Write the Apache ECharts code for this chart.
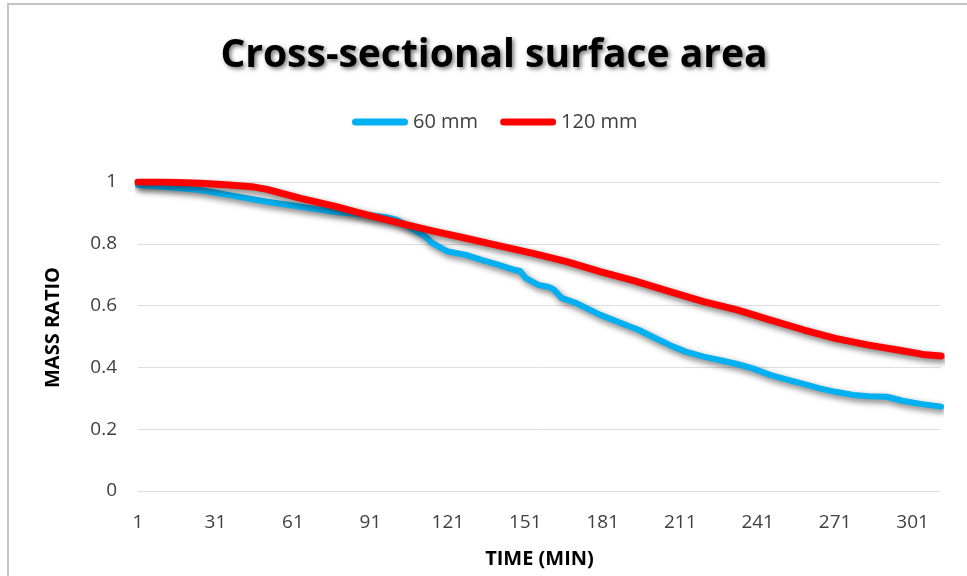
<!DOCTYPE html>
<html>
<head>
<meta charset="utf-8">
<script src="https://cdn.jsdelivr.net/npm/echarts@6/dist/echarts.min.js"></script>
<style>
html,body{margin:0;padding:0;background:#fff;}
#chart{width:967px;height:576px;}
</style>
</head>
<body>
<div id="chart"></div>
<script>
// ---- data ----
const titleText = 'Cross-sectional surface area';
const seriesNames = ['60 mm', '120 mm'];
const lastMinute = 312;
const categories = Array.from({length: lastMinute}, (_, i) => String(i + 1));
const yTicks = [0, 0.2, 0.4, 0.6, 0.8, 1];

const blueMinutes = [1, 12, 25, 38, 51, 64, 77, 90, 97, 101, 104, 109, 112, 115, 121, 128, 134, 141, 147, 149, 151, 156, 160, 162, 165, 171, 180, 190, 195, 200, 207, 213, 220, 226, 233, 239, 246, 252, 259, 265, 271, 278, 284, 291, 297, 304, 312];
const blueValues  = [0.990, 0.984, 0.974, 0.955, 0.936, 0.920, 0.904, 0.893, 0.886, 0.878, 0.865, 0.839, 0.825, 0.802, 0.775, 0.764, 0.748, 0.731, 0.715, 0.712, 0.690, 0.667, 0.660, 0.652, 0.625, 0.607, 0.570, 0.537, 0.521, 0.500, 0.472, 0.451, 0.435, 0.424, 0.411, 0.397, 0.375, 0.361, 0.346, 0.332, 0.321, 0.311, 0.307, 0.305, 0.292, 0.282, 0.273];

const redMinutes = [1, 10, 25, 35, 45, 51, 64, 77, 90, 102, 115, 128, 141, 154, 167, 180, 193, 207, 220, 233, 246, 259, 271, 284, 297, 305, 312];
const redValues  = [1.000, 1.000, 0.996, 0.991, 0.985, 0.976, 0.947, 0.922, 0.893, 0.868, 0.842, 0.818, 0.793, 0.769, 0.742, 0.710, 0.681, 0.645, 0.613, 0.586, 0.553, 0.521, 0.494, 0.472, 0.454, 0.442, 0.437];

function build(mins, vals) {
  const arr = new Array(lastMinute).fill(null);
  mins.forEach((m, i) => { arr[m - 1] = vals[i]; });
  return arr;
}

const FONT = '"Open Sans", "Noto Sans", sans-serif';
const chart = echarts.init(document.getElementById('chart'), null, {renderer: 'canvas'});
const lineShadow = {shadowColor: 'rgba(0,0,0,0.55)', shadowBlur: 6, shadowOffsetX: 2, shadowOffsetY: 3};

chart.setOption({
  backgroundColor: '#ffffff',
  animation: false,
  graphic: [{
    type: 'rect', shape: {x: 8, y: 4, width: 1000, height: 620},
    style: {fill: 'none', stroke: '#c4c4c4', lineWidth: 2}, silent: true, z: -1
  }],
  title: {
    text: titleText,
    left: 494, top: 36, textAlign: 'center', padding: 0,
    textStyle: {
      fontFamily: FONT, fontSize: 39, fontWeight: 'bold', color: '#000',
      textShadowColor: 'rgba(0,0,0,0.55)', textShadowBlur: 4, textShadowOffsetX: 2, textShadowOffsetY: 2
    }
  },
  legend: {
    data: seriesNames,
    left: 352, top: 112, padding: 0,
    itemWidth: 56, itemHeight: 7, itemGap: 22,
    icon: 'path://M3.5,0 L52.5,0 A3.5,3.5 0 0 1 52.5,7 L3.5,7 A3.5,3.5 0 0 1 3.5,0 Z',
    textStyle: {fontFamily: FONT, fontSize: 20, color: '#404040'}
  },
  grid: {left: 138, right: 26, top: 182, bottom: 85, containLabel: false},
  xAxis: {
    type: 'category', data: categories, boundaryGap: false,
    name: 'TIME (MIN)', nameLocation: 'middle', nameGap: 58,
    nameTextStyle: {fontFamily: FONT, fontSize: 20, fontWeight: 'bold', color: '#000'},
    axisLine: {show: false}, axisTick: {show: false},
    axisLabel: {interval: 29, margin: 22, fontFamily: FONT, fontSize: 19, color: '#404040'},
    splitLine: {show: false}
  },
  yAxis: {
    type: 'value', min: yTicks[0], max: yTicks[yTicks.length - 1], interval: 0.2,
    name: 'MASS RATIO', nameLocation: 'middle', nameGap: 75, nameRotate: 90,
    nameTextStyle: {fontFamily: FONT, fontSize: 20, fontWeight: 'bold', color: '#000', padding: [0, 0, 0, 18]},
    axisLine: {show: false}, axisTick: {show: false},
    axisLabel: {margin: 21, fontFamily: FONT, fontSize: 19, color: '#404040'},
    splitLine: {show: true, lineStyle: {color: '#dedede', width: 1}}
  },
  series: [
    {
      name: seriesNames[0], type: 'line', data: build(blueMinutes, blueValues),
      connectNulls: true, showSymbol: false, symbol: 'none',
      itemStyle: {color: '#00B0F0'},
      lineStyle: Object.assign({color: '#00B0F0', width: 6, cap: 'round', join: 'round'}, lineShadow)
    },
    {
      name: seriesNames[1], type: 'line', data: build(redMinutes, redValues),
      connectNulls: true, showSymbol: false, symbol: 'none',
      itemStyle: {color: '#FF0000'},
      lineStyle: Object.assign({color: '#FF0000', width: 7, cap: 'round', join: 'round'}, lineShadow)
    }
  ]
});
</script>
</body>
</html>
